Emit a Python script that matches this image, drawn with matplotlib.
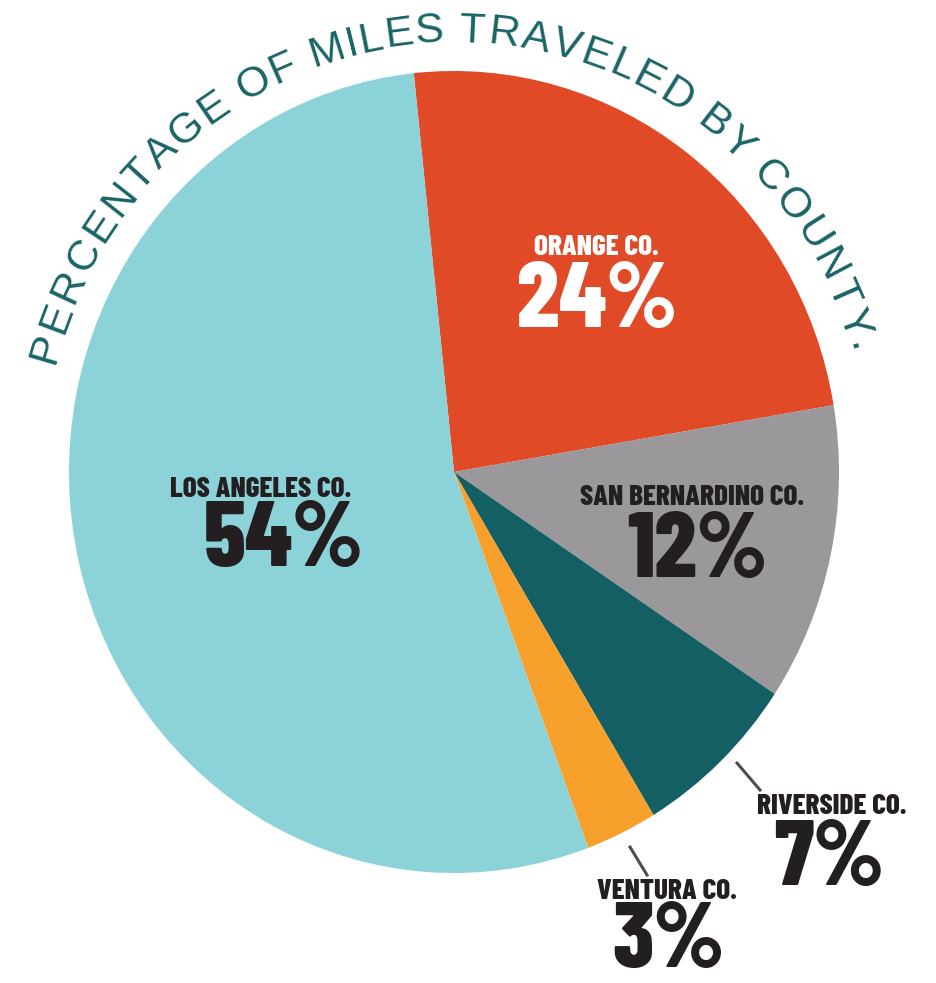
import numpy as np
import matplotlib
matplotlib.use("Agg")
import matplotlib.pyplot as plt
from matplotlib.font_manager import FontProperties
from matplotlib.textpath import TextToPath

# data
counties = ["ORANGE CO.", "SAN BERNARDINO CO.", "RIVERSIDE CO.", "VENTURA CO.", "LOS ANGELES CO."]
shares = [24, 12, 7, 3, 54]
colors = ["#E04A27", "#9A989B", "#135F63", "#F7A02B", "#8CD3D9"]
title = "PERCENTAGE OF MILES TRAVELED BY COUNTY."

W, H = 936, 983
SY = 401 / 385  # the original graphic is slightly stretched vertically


def py(y):
    # pixel row -> data y
    return y / SY


fig = plt.figure(figsize=(W / 100, H / 100), dpi=100)
ax = fig.add_axes([0, 0, 1, 1])

cx, cy, r = 454, 472, 385

ax.pie(shares, colors=colors, startangle=-96, counterclock=True,
       center=(cx, py(cy)), radius=r, frame=True,
       wedgeprops=dict(linewidth=0))
ax.set_aspect("auto")
ax.set_xlim(0, W)
ax.set_ylim(py(H), 0)
ax.axis("off")

label_font = ["Barlow Condensed", "DejaVu Sans"]
dark = "#231F20"

# (small label pos, big label pos, color) in pixels
label_pos = {
    "ORANGE CO.": ((596, 247), (597, 303), "white"),
    "SAN BERNARDINO CO.": ((692, 497), (697, 553), dark),
    "RIVERSIDE CO.": ((832, 806), (829, 861), dark),
    "VENTURA CO.": ((667, 891), (668, 943), dark),
    "LOS ANGELES CO.": ((261, 489), (284, 542), dark),
}
for name, val in zip(counties, shares):
    (sx, sy), (bx, by), col = label_pos[name]
    ax.text(sx, py(sy), name, family=label_font, fontstretch="condensed",
            fontweight=800, fontsize=21, color=col, ha="center", va="center")
    ax.text(bx, py(by), f"{val}%", family=label_font, fontstretch="condensed",
            fontweight=800, fontsize=67, color=col, ha="center", va="center")

# leader lines
ax.plot([737, 760], [py(763), py(790)], color="#4D4D4F", lw=2.2)
ax.plot([630, 647], [py(847), py(875)], color="#4D4D4F", lw=2.2)

# curved title along the top of the pie
fp = FontProperties(family="Liberation Sans", size=30)
t2p = TextToPath()
widths = [t2p.get_text_width_height_descent(ch, fp, ismath=False)[0] * 100 / 72
          for ch in title]
rb = 413
span_target = np.radians(150)
scale = span_target * rb / sum(widths)
fp.set_size(30 * scale * 0.94)  # a bit of extra tracking, like the original
widths = [w * scale for w in widths]
start = 90.8 + np.degrees(span_target) / 2
acc = 0
for ch, w in zip(title, widths):
    ang = start - np.degrees((acc + w / 2) / rb)
    acc += w
    a = np.radians(ang)
    x = cx + rb * np.cos(a)
    y = cy - rb * SY * np.sin(a)
    ax.text(x, py(y), ch, fontproperties=fp, color="#1A6466", rotation=ang - 90,
            rotation_mode="anchor", ha="center", va="baseline")

fig.savefig("out.png", dpi=100)
